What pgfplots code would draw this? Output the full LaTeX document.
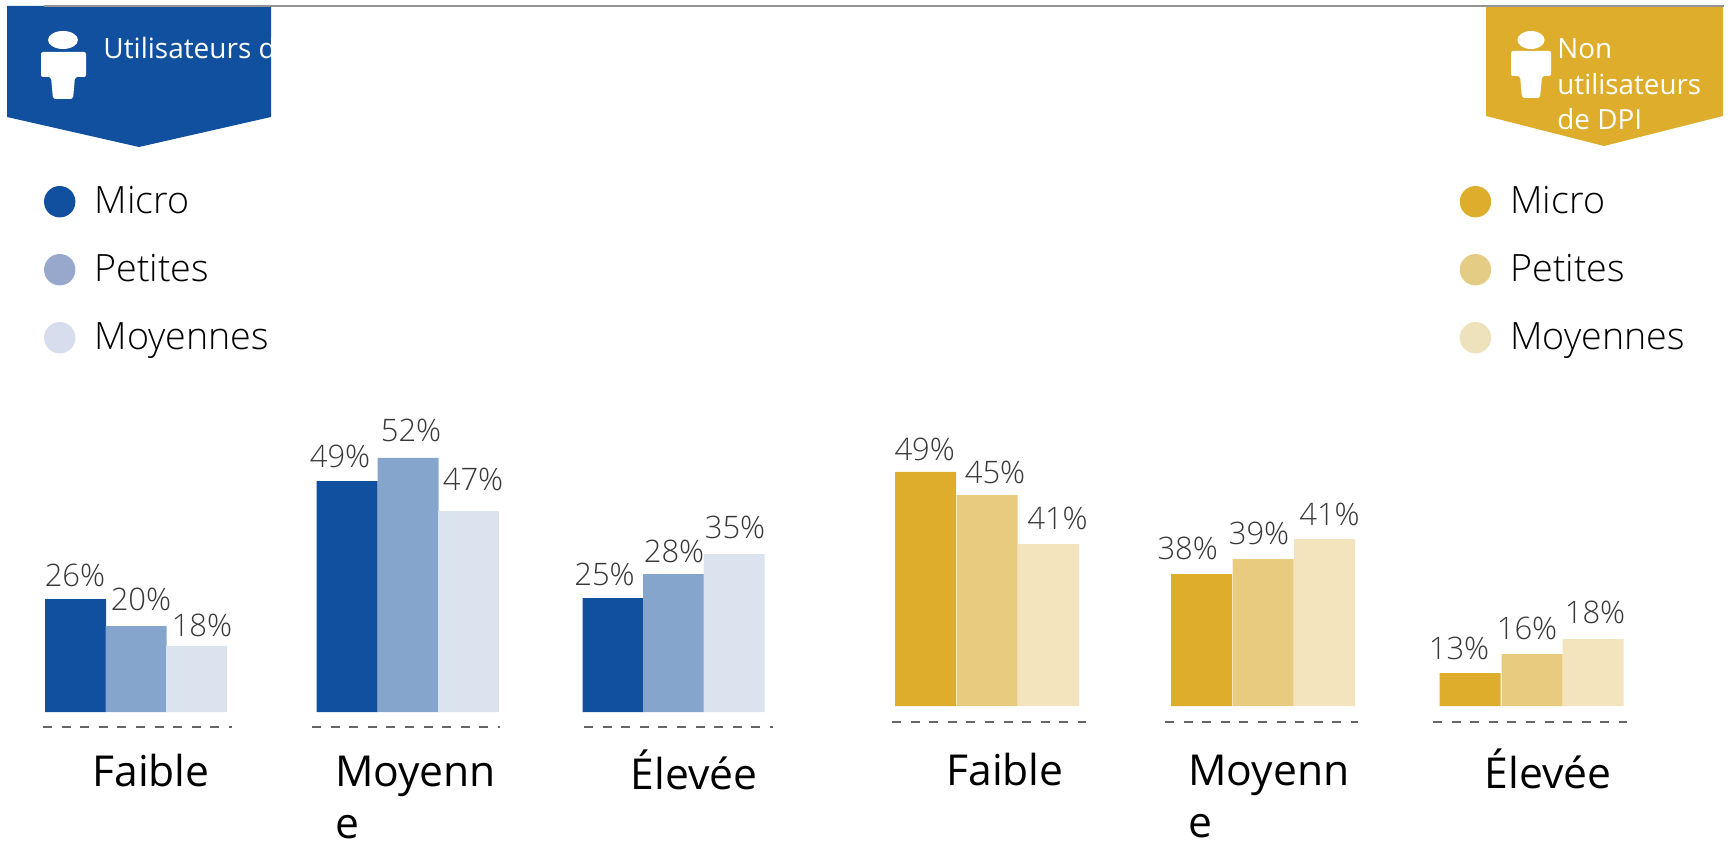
\documentclass[border=0pt]{standalone}
\usepackage{fontspec}
\usepackage{pgfplots}
\usepackage{pgfplotstable}
\pgfplotsset{compat=1.18}
\setmainfont{Open Sans}
\newfontfamily\oslight{Open Sans Light}
\definecolor{bA}{HTML}{10509E}\definecolor{bB}{HTML}{85A5CC}\definecolor{bC}{HTML}{DAE3EE}
\definecolor{lB}{HTML}{98A8CC}\definecolor{lC}{HTML}{D8DDED}
\definecolor{gA}{HTML}{DDAD2B}\definecolor{gB}{HTML}{E8CB7E}\definecolor{gC}{HTML}{F3E4BD}
\definecolor{mB}{HTML}{E4CC85}\definecolor{mC}{HTML}{EEE2BD}
% x = bar centre, h = drawn bar height (px of the picture), pct = printed value
\pgfplotstableread{
x h pct
75.5 113 26
347 231 49
613 114 25
}\lA
\pgfplotstableread{
x h pct
136 86 20
408 254 52
673.5 138 28
}\lB
\pgfplotstableread{
x h pct
196.5 66 18
468.5 201 47
734 158 35
}\lC
\pgfplotstableread{
x h pct
925.7 234 49
1201.7 132 38
1470 33 13
}\rA
\pgfplotstableread{
x h pct
987 211 45
1263 147 39
1532 52 16
}\rB
\pgfplotstableread{
x h pct
1048.5 162 41
1324.5 167 41
1593 67 18
}\rC
\pgfplotsset{legdot/.style={legend image code/.code={\fill[#1] (7.85pt,0pt) circle (7.85pt); \path (25.3pt,0pt);}},
 bars/.style={draw=none, fill=#1},
 off/.style n args={6}{
  coordinate style/.condition={\coordindex==0}{xshift=#1*0.5pt, yshift=#2*0.5pt},
  coordinate style/.condition={\coordindex==1}{xshift=#3*0.5pt, yshift=#4*0.5pt},
  coordinate style/.condition={\coordindex==2}{xshift=#5*0.5pt, yshift=#6*0.5pt}},
 labs/.style={forget plot, draw=none, fill=none,
  nodes near coords={\pgfplotspointmeta\%},
  point meta=explicit symbolic,
  every node near coord/.append style={anchor=base,
    font=\oslight\fontsize{15.5}{18}\selectfont, text=black!78, inner sep=0pt},
 },
 panel/.style={
  scale only axis, clip=false, ybar, bar shift=0pt, bar width=61,
  ymin=-16, axis line style={draw=none}, ytick=\empty, major tick length=0pt,
  xtick pos=bottom,
  xticklabel style={font=\fontsize{21.3}{26}\selectfont, align=left, anchor=north, text=black},
  xticklabels={{\strut Faible},{\strut Moyenn\\e},{\strut Élevée}},
  legend cell align=left,
  legend style={draw=none, fill=none, anchor=north west, inner sep=0pt, outer sep=0pt,
    font=\oslight\fontsize{18.8}{22}\selectfont, row sep=18.3pt,
    nodes={inner sep=0pt, outer sep=0pt}},
}}
\begin{document}
\begin{tikzpicture}
\useasboundingbox (0,0) rectangle (866.5pt,420.5pt);
\begin{axis}[panel, at={(0pt,56.5pt)}, anchor=south west, width=430pt, height=363.5pt,
  xmin=0, xmax=860, ymax=711, xtick={151,415.5,694},
  xticklabel style={yshift=-7.3pt},
  legend style={at={(0.0512,0.7455)}}]
\addplot[bars=bA, legdot=bA] table[x=x,y=h]{\lA};
\addlegendentry{Micro}
\addplot[bars=bB, legdot=lB] table[x=x,y=h]{\lB};
\addlegendentry{Petites}
\addplot[bars=bC, legdot=lC] table[x=x,y=h]{\lC};
\addlegendentry{Moyennes}
\addplot[labs, off={-0.5}{13}{-7}{13}{-8.5}{13}] table[x=x,y=h,meta=pct]{\lA};
\addplot[labs, off={5}{16}{3}{16}{0.5}{12}] table[x=x,y=h,meta=pct]{\lB};
\addplot[labs, off={5.5}{10}{4.5}{20}{1}{16}] table[x=x,y=h,meta=pct]{\lC};
\end{axis}
\begin{axis}[panel, at={(430pt,59.5pt)}, anchor=south west, width=436.5pt, height=360.5pt,
  xmin=860, xmax=1733, ymax=705, xtick={1005,1269,1548},
  xticklabel style={yshift=-10.1pt},
  legend style={at={(0.687,0.7434)}}]
\addplot[bars=gA, legdot=gA] table[x=x,y=h]{\rA};
\addlegendentry{Micro}
\addplot[bars=gB, legdot=mB] table[x=x,y=h]{\rB};
\addlegendentry{Petites}
\addplot[bars=gC, legdot=mC] table[x=x,y=h]{\rC};
\addlegendentry{Moyennes}
\addplot[labs, off={-1}{12}{-14}{15}{-11}{14}] table[x=x,y=h,meta=pct]{\rA};
\addplot[labs, off={8}{11}{-4}{15}{-5}{15}] table[x=x,y=h,meta=pct]{\rB};
\addplot[labs, off={9}{15}{5}{14}{2}{16}] table[x=x,y=h,meta=pct]{\rC};
\end{axis}
\begin{scope}[shift={(0pt,420.5pt)}, x=0.5pt, y=-0.5pt]
  % dashed baselines
  \foreach \a/\b/\y in {43/232/727,312/500/727,584/773/727,892/1086/722,1165/1358/722,1433/1627/722}
    \draw[black!60, line width=0.7pt, dash pattern=on 4.5pt off 4.8pt] (\a,\y) -- (\b,\y);
  % headers
  \fill[bA] (7,6) -- (271,6) -- (271,117) -- (139,147) -- (7,117) -- cycle;
  \fill[gA] (1486,6) -- (1723,6) -- (1723,116) -- (1604,146) -- (1486,116) -- cycle;
  \draw[black!42, line width=1pt] (44,6) -- (1724,6);
  \begin{scope}
    \clip (7,6) rectangle (271,147);
    \node[anchor=base west, inner sep=0pt, text=white, font=\fontsize{14}{18}\selectfont] at (103,59) {Utilisateurs de DPI};
  \end{scope}
  \node[anchor=base west, inner sep=0pt, text=white, font=\fontsize{13.9}{17.5}\selectfont] at (1557,59) {Non};
  \node[anchor=base west, inner sep=0pt, text=white, font=\fontsize{13.9}{17.5}\selectfont] at (1557,95) {utilisateurs};
  \node[anchor=base west, inner sep=0pt, text=white, font=\fontsize{13.9}{17.5}\selectfont] at (1557,130) {de DPI};
  % icons
  \fill[white] (63,40) ellipse [x radius=7.5pt, y radius=4.5pt];
  \fill[white, rounded corners=1pt] (41,52) -- (86,52) -- (86,77) -- (75,77) -- (73,99) -- (53,99) -- (51,77) -- (41,77) -- cycle;
  \fill[white] (1531,40) ellipse [x radius=6.8pt, y radius=4.5pt];
  \fill[white, rounded corners=1pt] (1511,51) -- (1551,51) -- (1551,76) -- (1542,76) -- (1540,98) -- (1522,98) -- (1520,76) -- (1511,76) -- cycle;
\end{scope}
\end{tikzpicture}
\end{document}
